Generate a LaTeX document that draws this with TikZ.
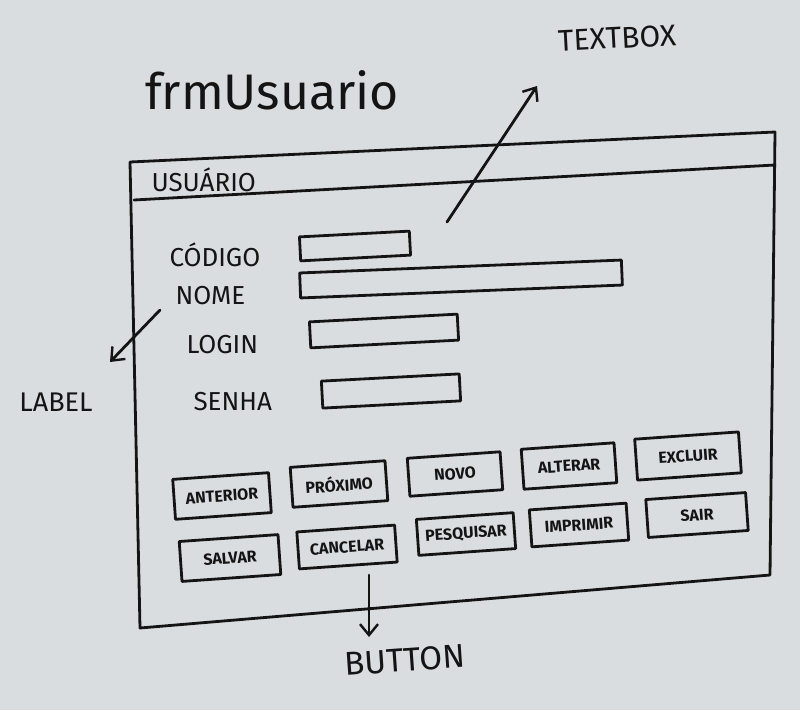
\documentclass[tikz,border=0pt]{standalone}
\usepackage{fontspec}
\setmainfont{Fira Sans}
\usetikzlibrary{arrows.meta}
\definecolor{board}{RGB}{218,221,224}
\definecolor{ink}{RGB}{20,20,20}
\tikzset{
  pen/.style={draw=ink, line width=2.8pt, line cap=round, line join=round},
  btn/.style={pen, rectangle, inner sep=0pt, rotate=4, font=\fontsize{16}{18}\selectfont\bfseries, text=ink},
  tbox/.style={pen, rectangle, inner sep=0pt},
  lbl/.style={font=\fontsize{26}{28}\selectfont\mdseries, text=ink, anchor=west},
  note/.style={text=ink},
  arr/.style={pen, -{Straight Barb[length=11pt,width=18pt,line width=2.4pt]}}
}
\begin{document}
\begin{tikzpicture}[x=1pt,y=-1pt]
\useasboundingbox[fill=board] (0,0) rectangle (800,710);
% title
\node[note, font=\fontsize{50}{56}\selectfont] (title) at (272,90) {frmUsuario};
\node[note, font=\fontsize{30}{32}\selectfont, rotate=3] (tbnote) at (617,38) {TEXTBOX};
\node[note, font=\fontsize{27}{30}\selectfont] (lbnote) at (56,402) {LABEL};
\node[note, font=\fontsize{33}{36}\selectfont, rotate=4] (bnnote) at (405,660) {BUTTON};
% form window
\coordinate (tl) at (130,162);
\coordinate (tr) at (775,132);
\coordinate (br) at (770,575);
\coordinate (bl) at (140,628);
\coordinate (sl) at (134,200);
\coordinate (sr) at (775,165);
\draw[pen] (tl) -- (tr) -- (br) -- (bl) -- cycle;
\draw[pen] (sl) -- (sr);
\node[note, font=\fontsize{26}{28}\selectfont, anchor=west] (wtitle) at (148,180) {USUÁRIO};
% labels
\node[lbl] (lcod) at (166,255) {CÓDIGO};
\node[lbl] (lnome) at (172,296) {NOME};
\node[lbl] (llogin) at (183,345) {LOGIN};
\node[lbl] (lsenha) at (190,402) {SENHA};
% textboxes
\node[tbox, minimum width=110pt, minimum height=24pt, rotate=3] (tcod) at (355,246) {};
\node[tbox, minimum width=322pt, minimum height=25pt, rotate=2.3] (tnome) at (461,279) {};
\node[tbox, minimum width=148pt, minimum height=26pt, rotate=3] (tlogin) at (384,331) {};
\node[tbox, minimum width=138pt, minimum height=27pt, rotate=3] (tsenha) at (391,391) {};
% buttons row 1
\node[btn, minimum width=96pt, minimum height=40pt] (b1) at (222,496) {ANTERIOR};
\node[btn, minimum width=95pt, minimum height=40pt] (b2) at (339,484) {PRÓXIMO};
\node[btn, minimum width=93pt, minimum height=38pt] (b3) at (455,474) {NOVO};
\node[btn, minimum width=93pt, minimum height=40pt] (b4) at (569,466) {ALTERAR};
\node[btn, minimum width=104pt, minimum height=41pt] (b5) at (688,456) {EXCLUIR};
% buttons row 2
\node[btn, minimum width=99pt, minimum height=40pt] (b6) at (230,558) {SALVAR};
\node[btn, minimum width=98pt, minimum height=37pt] (b7) at (347,547) {CANCELAR};
\node[btn, minimum width=97pt, minimum height=36pt] (b8) at (466,534) {PESQUISAR};
\node[btn, minimum width=97pt, minimum height=37pt] (b9) at (579,525) {IMPRIMIR};
\node[btn, minimum width=100pt, minimum height=38pt] (b10) at (697,515) {SAIR};
% arrows
\coordinate (tbstart) at (447,222);
\coordinate (tbend) at (537,86);
\coordinate (lbstart) at (160,310);
\coordinate (lbend) at (110,362);
\coordinate (bnstart) at (369,575);
\coordinate (bnend) at (369,637);
\draw[arr] (tbstart) -- (tbend);
\draw[arr] (lbstart) -- (lbend);
\draw[arr] (bnstart) -- (bnend);
\end{tikzpicture}
\end{document}
